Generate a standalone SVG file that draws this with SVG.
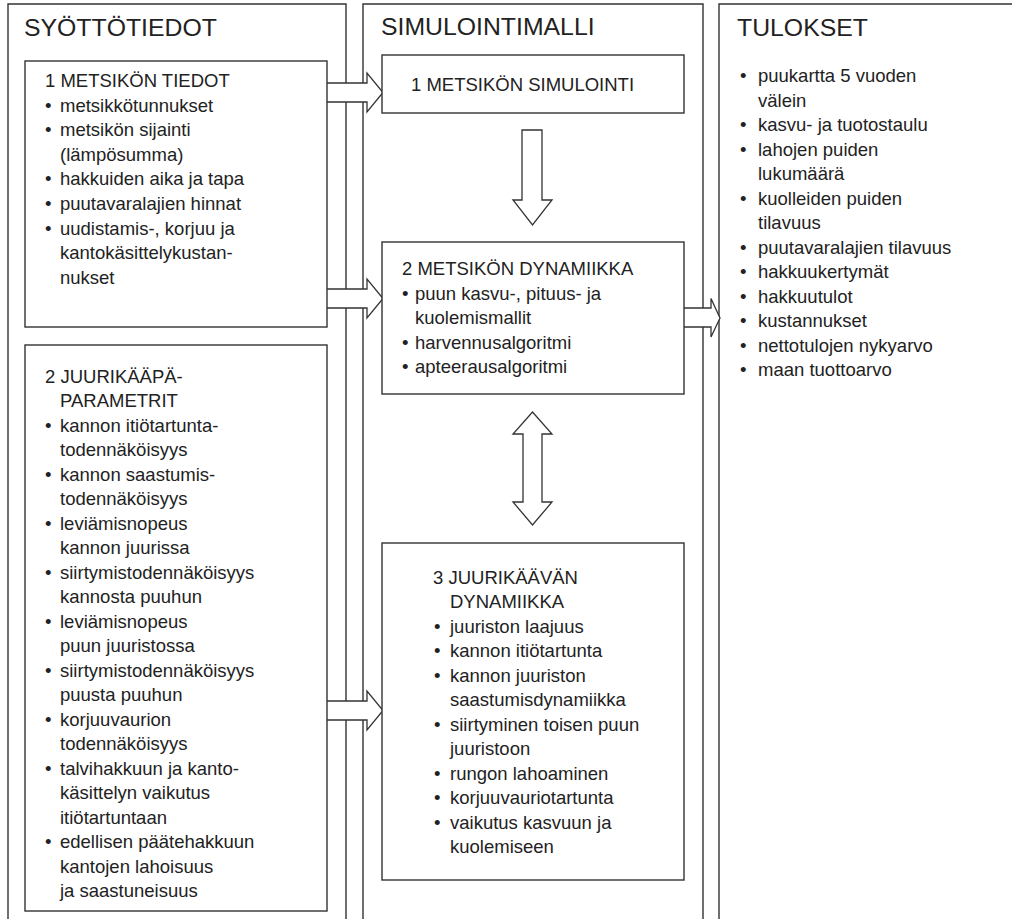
<svg xmlns="http://www.w3.org/2000/svg" width="1012" height="919" viewBox="0 0 1012 919">
<style>
.col{fill:none;stroke:#333;stroke-width:1.4}
.box{fill:#fff;stroke:#333;stroke-width:1.4}
.arr{fill:#fff;stroke:#333;stroke-width:1.3;stroke-linejoin:miter}
text{font-family:"Liberation Sans",Arial,sans-serif;fill:#222}
.h{font-size:24.8px}
.t{font-size:18.5px}
</style>
<rect width="1012" height="919" fill="#fff"/>
<g id="columns">
<path class="col" d="M8,919 V4 H346 V919"/>
<path class="col" d="M363,919 V4 H703 V919"/>
<path class="col" d="M719,919 V4 H1012"/>
</g>
<g id="col-syottotiedot"><text class="h" x="24" y="36">SYÖTTÖTIEDOT</text></g>
<g id="col-simulointimalli"><text class="h" x="381" y="35">SIMULOINTIMALLI</text></g>
<g id="col-tulokset">
<text class="h" x="737" y="36">TULOKSET</text>
<text class="t" x="740" y="82">•</text><text class="t" x="758" y="82">puukartta 5 vuoden</text>
<text class="t" x="758" y="106.5">välein</text>
<text class="t" x="740" y="131">•</text><text class="t" x="758" y="131">kasvu- ja tuotostaulu</text>
<text class="t" x="740" y="155.5">•</text><text class="t" x="758" y="155.5">lahojen puiden</text>
<text class="t" x="758" y="180">lukumäärä</text>
<text class="t" x="740" y="204.5">•</text><text class="t" x="758" y="204.5">kuolleiden puiden</text>
<text class="t" x="758" y="229">tilavuus</text>
<text class="t" x="740" y="253.5">•</text><text class="t" x="758" y="253.5">puutavaralajien tilavuus</text>
<text class="t" x="740" y="278">•</text><text class="t" x="758" y="278">hakkuukertymät</text>
<text class="t" x="740" y="302.5">•</text><text class="t" x="758" y="302.5">hakkuutulot</text>
<text class="t" x="740" y="327">•</text><text class="t" x="758" y="327">kustannukset</text>
<text class="t" x="740" y="351.5">•</text><text class="t" x="758" y="351.5">nettotulojen nykyarvo</text>
<text class="t" x="740" y="376">•</text><text class="t" x="758" y="376">maan tuottoarvo</text>
</g>
<g id="connectors">
<path class="arr" d="M325,83 H367 V73 L383,92.5 L367,112 V102 H325 Z"/>
<path class="arr" d="M325,289 H367 V279 L383,298.5 L367,318 V308 H325 Z"/>
<path class="arr" d="M325,701 H367 V691 L383,710.5 L367,730 V720 H325 Z"/>
<path class="arr" d="M682,308 H711 V298.5 L720,318 L711,337 V327 H682 Z"/>
<path class="arr" d="M522,130 H542 V200 H552 L532.5,225 L513,200 H522 Z"/>
<path class="arr" d="M532.5,412 L552,434 H542 V502 H552 L532.5,525 L513,502 H523 V434 H513 Z"/>
</g>
<g id="node-metsikon-tiedot">
<rect class="box" x="25" y="61" width="302" height="266"/>
<text class="t" x="45" y="87">1 METSIKÖN TIEDOT</text>
<text class="t" x="45" y="111.6">•</text><text class="t" x="60" y="111.6">metsikkötunnukset</text>
<text class="t" x="45" y="136.2">•</text><text class="t" x="60" y="136.2">metsikön sijainti</text>
<text class="t" x="60" y="160.8">(lämpösumma)</text>
<text class="t" x="45" y="185.4">•</text><text class="t" x="60" y="185.4">hakkuiden aika ja tapa</text>
<text class="t" x="45" y="210">•</text><text class="t" x="60" y="210">puutavaralajien hinnat</text>
<text class="t" x="45" y="234.6">•</text><text class="t" x="60" y="234.6">uudistamis-, korjuu ja</text>
<text class="t" x="60" y="259.2">kantokäsittelykustan-</text>
<text class="t" x="60" y="283.8">nukset</text>
</g>
<g id="node-juurikaapa-parametrit">
<rect class="box" x="25" y="345" width="302" height="566"/>
<text class="t" x="45" y="382.5">2 JUURIKÄÄPÄ-</text>
<text class="t" x="60" y="407">PARAMETRIT</text>
<text class="t" x="45" y="431.5">•</text><text class="t" x="60" y="431.5">kannon itiötartunta-</text>
<text class="t" x="60" y="456">todennäköisyys</text>
<text class="t" x="45" y="480.5">•</text><text class="t" x="60" y="480.5">kannon saastumis-</text>
<text class="t" x="60" y="505">todennäköisyys</text>
<text class="t" x="45" y="529.5">•</text><text class="t" x="60" y="529.5">leviämisnopeus</text>
<text class="t" x="60" y="554">kannon juurissa</text>
<text class="t" x="45" y="578.5">•</text><text class="t" x="60" y="578.5">siirtymistodennäköisyys</text>
<text class="t" x="60" y="603">kannosta puuhun</text>
<text class="t" x="45" y="627.5">•</text><text class="t" x="60" y="627.5">leviämisnopeus</text>
<text class="t" x="60" y="652">puun juuristossa</text>
<text class="t" x="45" y="676.5">•</text><text class="t" x="60" y="676.5">siirtymistodennäköisyys</text>
<text class="t" x="60" y="701">puusta puuhun</text>
<text class="t" x="45" y="725.5">•</text><text class="t" x="60" y="725.5">korjuuvaurion</text>
<text class="t" x="60" y="750">todennäköisyys</text>
<text class="t" x="45" y="774.5">•</text><text class="t" x="60" y="774.5">talvihakkuun ja kanto-</text>
<text class="t" x="60" y="799">käsittelyn vaikutus</text>
<text class="t" x="60" y="823.5">itiötartuntaan</text>
<text class="t" x="45" y="848">•</text><text class="t" x="60" y="848">edellisen päätehakkuun</text>
<text class="t" x="60" y="872.5">kantojen lahoisuus</text>
<text class="t" x="60" y="897">ja saastuneisuus</text>
</g>
<g id="node-metsikon-simulointi">
<rect class="box" x="382" y="55" width="302" height="58"/>
<text class="t" x="411" y="91">1 METSIKÖN SIMULOINTI</text>
</g>
<g id="node-metsikon-dynamiikka">
<rect class="box" x="382" y="242" width="302" height="152"/>
<text class="t" x="402" y="275">2 METSIKÖN DYNAMIIKKA</text>
<text class="t" x="402" y="299.5">•</text><text class="t" x="415" y="299.5">puun kasvu-, pituus- ja</text>
<text class="t" x="415" y="324">kuolemismallit</text>
<text class="t" x="402" y="348.5">•</text><text class="t" x="415" y="348.5">harvennusalgoritmi</text>
<text class="t" x="402" y="373">•</text><text class="t" x="415" y="373">apteerausalgoritmi</text>
</g>
<g id="node-juurikaavan-dynamiikka">
<rect class="box" x="382" y="543" width="302" height="337"/>
<text class="t" x="433" y="583.5">3 JUURIKÄÄVÄN</text>
<text class="t" x="450" y="608">DYNAMIIKKA</text>
<text class="t" x="434" y="632.5">•</text><text class="t" x="450" y="632.5">juuriston laajuus</text>
<text class="t" x="434" y="657">•</text><text class="t" x="450" y="657">kannon itiötartunta</text>
<text class="t" x="434" y="681.5">•</text><text class="t" x="450" y="681.5">kannon juuriston</text>
<text class="t" x="450" y="706">saastumisdynamiikka</text>
<text class="t" x="434" y="730.5">•</text><text class="t" x="450" y="730.5">siirtyminen toisen puun</text>
<text class="t" x="450" y="755">juuristoon</text>
<text class="t" x="434" y="779.5">•</text><text class="t" x="450" y="779.5">rungon lahoaminen</text>
<text class="t" x="434" y="804">•</text><text class="t" x="450" y="804">korjuuvauriotartunta</text>
<text class="t" x="434" y="828.5">•</text><text class="t" x="450" y="828.5">vaikutus kasvuun ja</text>
<text class="t" x="450" y="853">kuolemiseen</text>
</g>
</svg>
